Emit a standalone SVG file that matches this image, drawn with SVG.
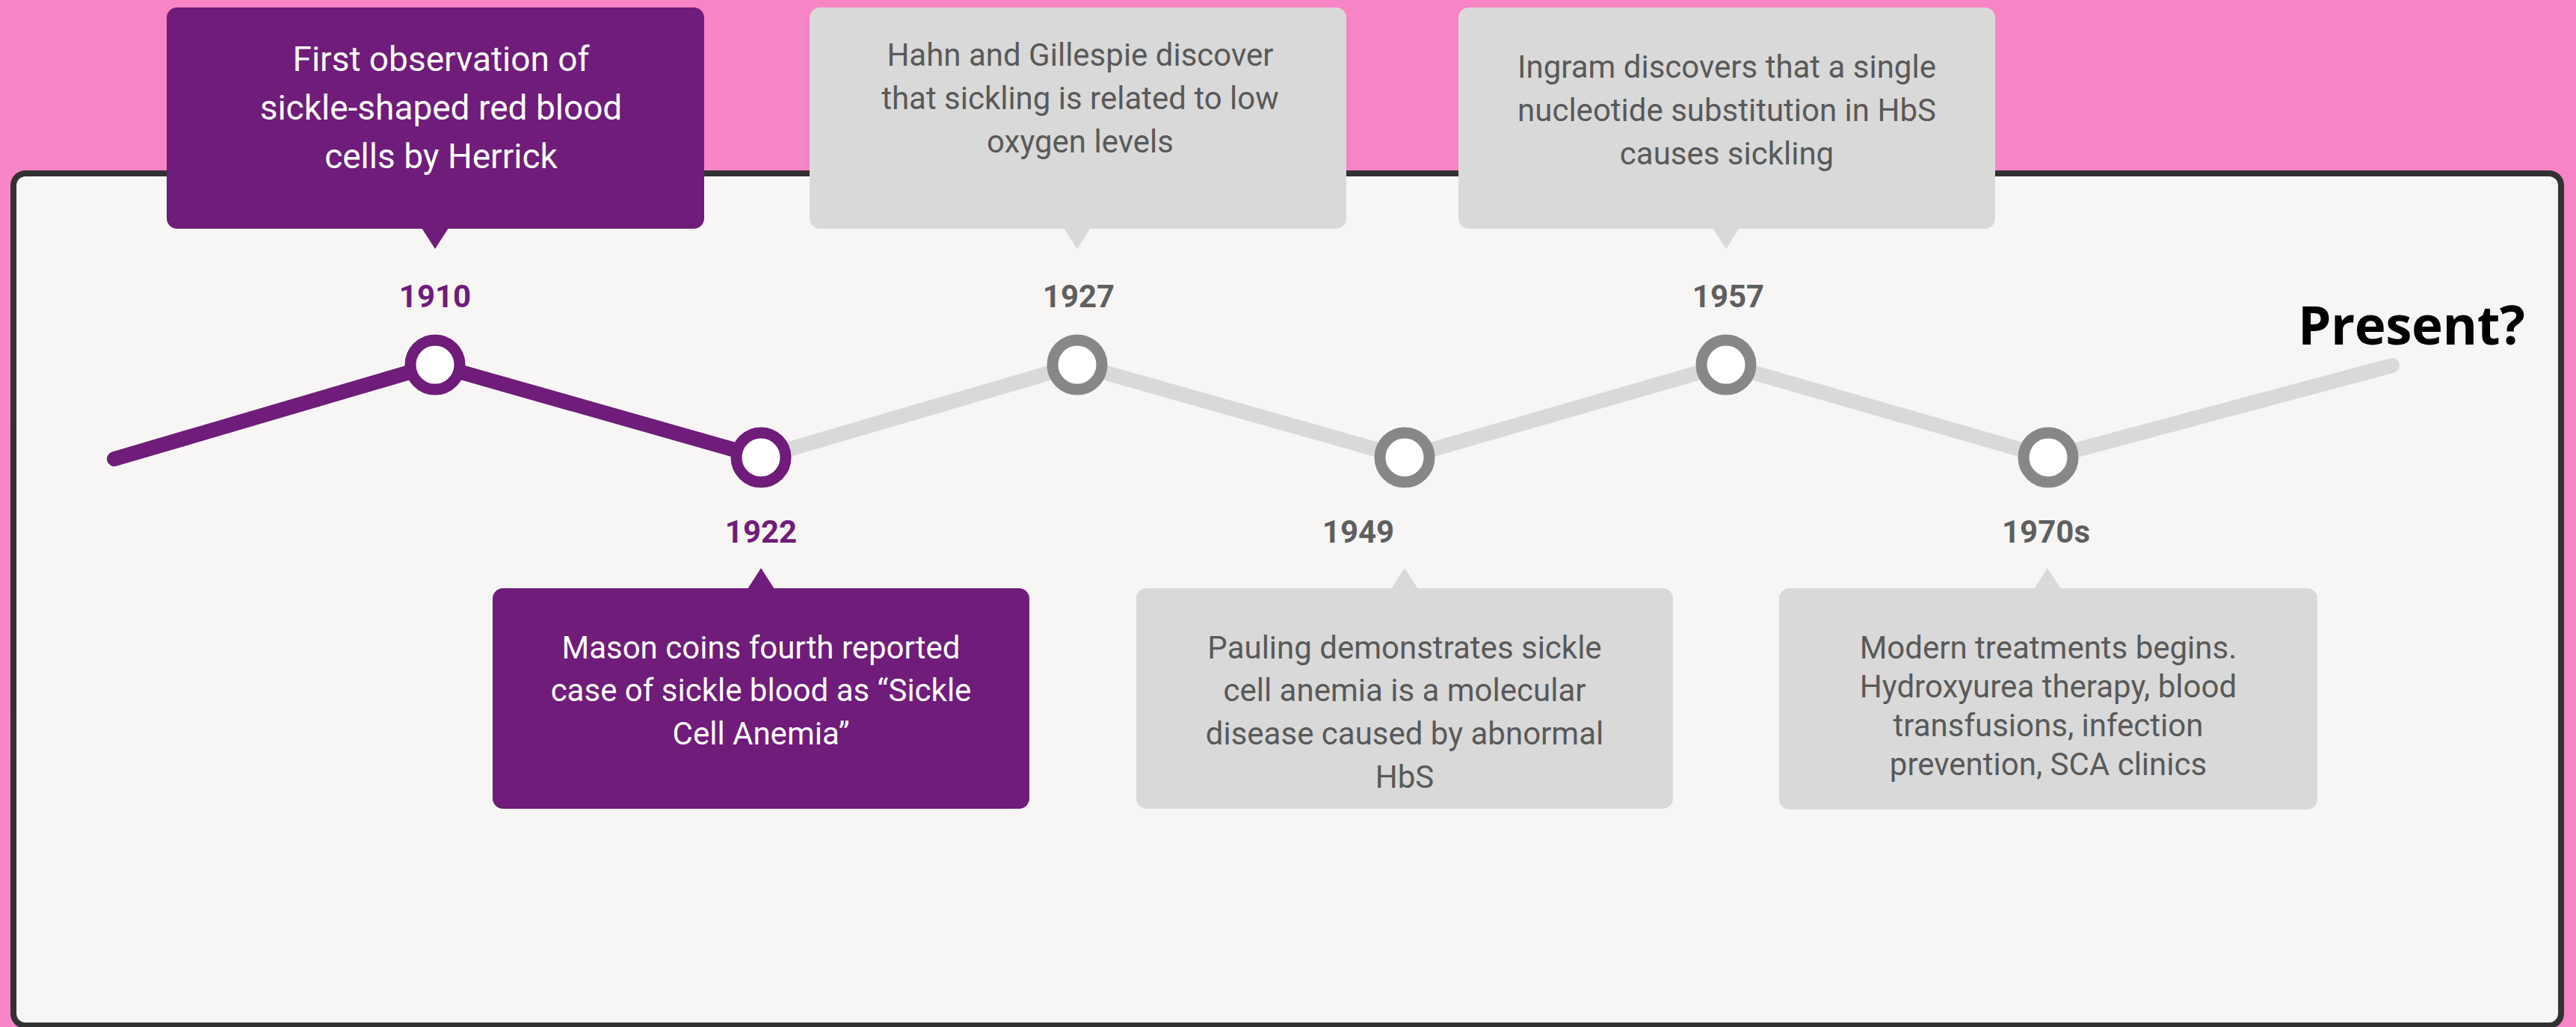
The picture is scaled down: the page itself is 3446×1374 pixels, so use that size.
<svg xmlns="http://www.w3.org/2000/svg" width="3446" height="1374" viewBox="0 0 3446 1374">
<style>
.box-p{fill:#6f1c7a}
.box-g{fill:#d9d9d9}
.txt-w{font-family:Roboto,"Liberation Sans",sans-serif;font-size:42px;fill:#ffffff;text-anchor:middle}
.txt-g{font-family:Roboto,"Liberation Sans",sans-serif;font-size:42px;fill:#595959;text-anchor:middle}
.yr{font-family:Roboto,"Liberation Sans",sans-serif;font-size:42px;font-weight:700;text-anchor:middle}
.yr-p{fill:#6f1c7a}
.yr-g{fill:#5f5f5f}
.dot-p{fill:#ffffff;stroke:#6f1c7a;stroke-width:15}
.dot-g{fill:#ffffff;stroke:#878787;stroke-width:15}
.ln{fill:none;stroke-width:20;stroke-linecap:round;stroke-linejoin:round}
</style>
<rect x="0" y="0" width="3446" height="1374" fill="#f784c4"/>
<rect id="frame" x="18" y="232" width="3408" height="1140" rx="16" fill="#f7f6f4" stroke="#333132" stroke-width="8"/>
<g id="connectors">
<polyline class="ln" stroke="#d9d9d9" points="1018,612 1441,488 1879,612 2309,488 2740,612 3200,489"/>
<polyline class="ln" stroke="#6f1c7a" points="153,614 582,488 1018,612"/>
</g>
<g id="n1910">
<rect class="box-p" x="223" y="10" width="719" height="296" rx="14"/>
<polygon class="box-p" points="564,305 600,305 582,333"/>
<text class="txt-w" x="590" style="font-size:46px"><tspan x="590" y="95">First observation of</tspan><tspan x="590" y="160">sickle-shaped red blood</tspan><tspan x="590" y="225">cells by Herrick</tspan></text>
<text class="yr yr-p" x="582" y="411">1910</text>
<circle class="dot-p" cx="582" cy="488" r="33"/>
</g>
<g id="n1922">
<rect class="box-p" x="659" y="787" width="718" height="295" rx="14"/>
<polygon class="box-p" points="1000,788 1036,788 1018,760"/>
<text class="txt-w"><tspan x="1018" y="881">Mason coins fourth reported</tspan><tspan x="1018" y="938">case of sickle blood as “Sickle</tspan><tspan x="1018" y="996">Cell Anemia”</tspan></text>
<text class="yr yr-p" x="1018" y="726">1922</text>
<circle class="dot-p" cx="1018" cy="612" r="33"/>
</g>
<g id="n1927">
<rect class="box-g" x="1083" y="10" width="718" height="296" rx="14"/>
<polygon class="box-g" points="1423,305 1459,305 1441,333"/>
<text class="txt-g"><tspan x="1445" y="88">Hahn and Gillespie discover</tspan><tspan x="1445" y="146">that sickling is related to low</tspan><tspan x="1445" y="204">oxygen levels</tspan></text>
<text class="yr yr-g" x="1443" y="411">1927</text>
<circle class="dot-g" cx="1441" cy="488" r="33"/>
</g>
<g id="n1949">
<rect class="box-g" x="1520" y="787" width="718" height="295" rx="14"/>
<polygon class="box-g" points="1861,788 1897,788 1879,760"/>
<text class="txt-g"><tspan x="1879" y="881">Pauling demonstrates sickle</tspan><tspan x="1879" y="938">cell anemia is a molecular</tspan><tspan x="1879" y="996">disease caused by abnormal</tspan><tspan x="1879" y="1054">HbS</tspan></text>
<text class="yr yr-g" x="1817" y="726">1949</text>
<circle class="dot-g" cx="1879" cy="612" r="33"/>
</g>
<g id="n1957">
<rect class="box-g" x="1951" y="10" width="718" height="296" rx="14"/>
<polygon class="box-g" points="2291,305 2327,305 2309,333"/>
<text class="txt-g"><tspan x="2310" y="104">Ingram discovers that a single</tspan><tspan x="2310" y="162">nucleotide substitution in HbS</tspan><tspan x="2310" y="220">causes sickling</tspan></text>
<text class="yr yr-g" x="2312" y="411">1957</text>
<circle class="dot-g" cx="2309" cy="488" r="33"/>
</g>
<g id="n1970s">
<rect class="box-g" x="2380" y="787" width="720" height="296" rx="14"/>
<polygon class="box-g" points="2721,788 2757,788 2739,760"/>
<text class="txt-g"><tspan x="2740" y="881">Modern treatments begins.</tspan><tspan x="2740" y="933">Hydroxyurea therapy, blood</tspan><tspan x="2740" y="985">transfusions, infection</tspan><tspan x="2740" y="1037">prevention, SCA clinics</tspan></text>
<text class="yr yr-g" x="2737" y="726">1970s</text>
<circle class="dot-g" cx="2740" cy="612" r="33"/>
</g>
<g id="present">
<text x="3074" y="461" style="font-family:'Open Sans','Liberation Sans',sans-serif;font-size:71px;font-weight:700;letter-spacing:-0.5px;fill:#000000">Present?</text>
</g>
</svg>
